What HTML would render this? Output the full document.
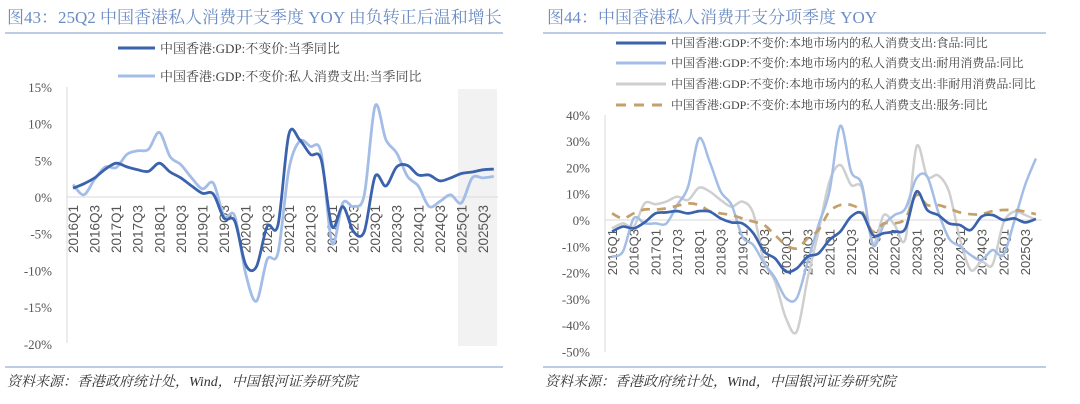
<!DOCTYPE html>
<html><head><meta charset="utf-8"><style>
body{margin:0;background:#fff;width:1080px;height:404px;overflow:hidden}
svg{display:block}
</style></head><body>
<svg id="s" width="1080" height="404" xmlns="http://www.w3.org/2000/svg" font-family="'Liberation Serif','Noto Serif CJK SC',serif">
<text x="7" y="23" font-size="17" fill="#6b8cc4">图43：25Q2 中国香港私人消费开支季度 YOY 由负转正后温和增长</text>
<line x1="5" y1="33" x2="503" y2="33" stroke="#7a98cc" stroke-width="1"/>
<text x="547" y="23" font-size="17" fill="#6b8cc4">图44：中国香港私人消费开支分项季度 YOY</text>
<line x1="543" y1="33" x2="1046" y2="33" stroke="#7a98cc" stroke-width="1"/>
<line x1="5" y1="367" x2="503" y2="367" stroke="#7a98cc" stroke-width="1"/>
<line x1="543" y1="367" x2="1046" y2="367" stroke="#7a98cc" stroke-width="1"/>
<text x="7" y="386" font-size="14" font-style="italic" fill="#333">资料来源：香港政府统计处，Wind，中国银河证券研究院</text>
<text x="545" y="386" font-size="14" font-style="italic" fill="#333">资料来源：香港政府统计处，Wind，中国银河证券研究院</text>
<line x1="118" y1="48" x2="155" y2="48" stroke="#3a62ad" stroke-width="3"/>
<text x="160" y="53" font-size="13" fill="#444">中国香港:GDP:不变价:当季同比</text>
<line x1="118" y1="76" x2="155" y2="76" stroke="#a4bde6" stroke-width="3"/>
<text x="160" y="81" font-size="13" fill="#444">中国香港:GDP:不变价:私人消费支出:当季同比</text>
<rect x="458" y="89" width="39" height="257" fill="#f2f2f2"/>
<line x1="67" y1="87" x2="67" y2="343" stroke="#d9d9d9"/>
<line x1="67" y1="197" x2="498" y2="197" stroke="#d9d9d9"/>
<line x1="616" y1="43" x2="666" y2="43" stroke="#3a62ad" stroke-width="3"/>
<line x1="616" y1="63" x2="666" y2="63" stroke="#a4bde6" stroke-width="3"/>
<line x1="616" y1="84" x2="666" y2="84" stroke="#cfcfcf" stroke-width="3"/>
<line x1="616" y1="105" x2="666" y2="105" stroke="#c4a06a" stroke-width="3" stroke-dasharray="10,8"/>
<g font-size="12" fill="#444">
<text x="671" y="47">中国香港:GDP:不变价:本地市场内的私人消费支出:食品:同比</text>
<text x="671" y="67">中国香港:GDP:不变价:本地市场内的私人消费支出:耐用消费品:同比</text>
<text x="671" y="88">中国香港:GDP:不变价:本地市场内的私人消费支出:非耐用消费品:同比</text>
<text x="671" y="109">中国香港:GDP:不变价:本地市场内的私人消费支出:服务:同比</text>
</g>
<line x1="605" y1="115" x2="605" y2="352" stroke="#d9d9d9"/>
<line x1="605" y1="220" x2="1042" y2="220" stroke="#d9d9d9"/>
<g id="g"></g>
</svg>
<script>
var NS="http://www.w3.org/2000/svg",g=document.getElementById('g');
function el(t,a,txt){var e=document.createElementNS(NS,t);for(var k in a)e.setAttribute(k,a[k]);if(txt)e.textContent=txt;g.appendChild(e);return e;}
function path(xs,ys){var d="M"+xs[0]+","+ys[0];for(var i=0;i<xs.length-1;i++){var x0=xs[i-1>=0?i-1:i],y0=ys[i-1>=0?i-1:i],x3=xs[i+2<xs.length?i+2:i+1],y3=ys[i+2<ys.length?i+2:i+1];var t=0.16;var c1x=xs[i]+(xs[i+1]-x0)*t,c1y=ys[i]+(ys[i+1]-y0)*t,c2x=xs[i+1]-(x3-xs[i])*t,c2y=ys[i+1]-(y3-ys[i])*t;d+=" C"+c1x+","+c1y+" "+c2x+","+c2y+" "+xs[i+1]+","+ys[i+1];}return d;}
var Q=[];for(var y=2016;y<=2025;y++)for(var k=1;k<=4;k++)Q.push(y+"Q"+k);
var SANS="'Liberation Sans',sans-serif";
var lx=function(i){return 73+10.79*i},ly=function(v){return 197-v*7.34};
[["15%",15],["10%",10],["5%",5],["0%",0],["-5%",-5],["-10%",-10],["-15%",-15],["-20%",-20]].forEach(function(a){el('text',{x:52,y:ly(a[1])+5,'font-size':13,fill:'#555','text-anchor':'end'},a[0]);});
for(var i=0;i<40;i+=2){var x=lx(i)+5;el('text',{x:x,y:205,'font-size':13.5,'font-family':SANS,fill:'#555','text-anchor':'end',transform:'rotate(-90 '+x+' 205)'},Q[i]);}
var gdp=[1.2,1.8,2.6,3.8,4.6,4.1,3.7,3.5,4.6,3.4,2.6,1.5,0.5,0.4,-2.9,-3.3,-9.2,-9.5,-4,-3.8,8.5,7.8,5.8,5.1,-4,-1.3,-4.7,-4.7,2.8,1.5,4.1,4.3,3,3,2.2,2.6,3.2,3.4,3.7,3.8];
var pc=[1.7,0.3,2.4,4.1,4,5.8,6.3,6.5,8.8,5.5,4.4,2.6,1.1,1.9,-2.6,-2.6,-10.4,-14.2,-8.5,-7.6,3.7,7.6,6.9,6,-6.3,-0.8,-1.3,0.3,12.4,7.8,6,2.8,1.5,-1.3,-0.6,0.3,-0.8,2.6,2.6,2.8];
function draw(data,fx,fy,col,w,dash){var xs=[],ys=[];data.forEach(function(v,i){xs.push(+fx(i).toFixed(1));ys.push(+fy(v).toFixed(1));});var a={d:path(xs,ys),fill:'none',stroke:col,'stroke-width':w,'stroke-linejoin':'round'};if(dash)a['stroke-dasharray']=dash;el('path',a);}
draw(pc,lx,ly,'#a4bde6',2.8);
draw(gdp,lx,ly,'#3a62ad',2.8);
var rx=function(i){return 612+10.87*i},ry=function(v){return 220-v*2.63};
[40,30,20,10,0,-10,-20,-30,-40,-50].forEach(function(v){el('text',{x:590,y:ry(v)+5,'font-size':13,fill:'#555','text-anchor':'end'},v+"%");});
for(var i=0;i<40;i+=2){var x=rx(i)+5;el('text',{x:x,y:229,'font-size':13,'font-family':SANS,fill:'#555','text-anchor':'end',transform:'rotate(-90 '+x+' 229)'},Q[i]);}
var food=[-4.4,-2.5,-3.2,-0.9,2.5,2.9,3.4,2.5,3.4,3.2,0.6,-0.9,-1.3,-5,-12,-14.6,-19.6,-18.4,-13.9,-12.7,-7.6,-4.4,1.3,2.5,-5.7,-5,-4.4,-3.2,10.8,3.8,1.9,-1.3,-1.9,-3.8,1.3,1.9,0,0.6,-0.9,0.4];
var dur=[-13.9,-12,0.6,-1.3,-1.3,-1.3,5.7,12.7,31,22,10.8,5.7,-6.3,-9.5,-16.5,-22,-29.7,-29.7,-15.8,-1.9,10.8,35.8,18.4,13.3,-9.5,-1.9,1.9,4.4,15.8,16.5,3.2,-7,-10,-13.3,-15.2,-11.4,-13.3,-0.6,13.3,23.4];
var nd=[-3.2,-1.3,-2.5,6.3,6,7,8.9,7.6,12.3,10.8,7.6,5,7,2.5,-15.8,-23.4,-37.3,-42.4,-22,-4.4,14.6,20.9,13.3,12,-8.9,1.9,-1.9,-7,27.8,16.5,17,10.8,-7,-19,-15.8,-17,-1.3,3.2,1.9,0];
var sv=[2.5,0.6,2.5,4,4,4.4,5.4,6.3,5.7,3.4,2.5,1.9,0.6,-0.6,-1.9,-5.7,-9.5,-10.8,-7,-3.8,3.2,5.7,5.7,3.2,-4.4,-1.3,-1.3,0.6,9.5,5.7,5.7,4.4,2.9,2.2,2.2,3.4,3.8,3.8,3.2,2.2];
draw(nd,rx,ry,'#cfcfcf',2.5);
draw(dur,rx,ry,'#a4bde6',2.5);
draw(sv,rx,ry,'#c4a06a',2.7,'9,7');
draw(food,rx,ry,'#3a62ad',2.7);
</script>
</body></html>
